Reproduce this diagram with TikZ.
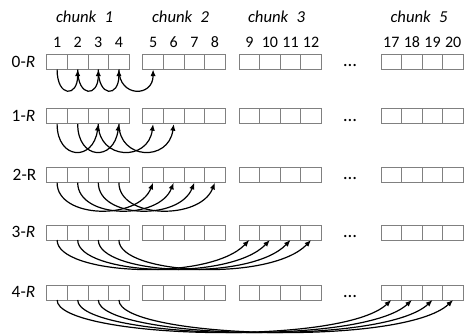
\documentclass[tikz,border=0pt]{standalone}
\usepackage{fontspec}
\setmainfont{Carlito}
\usepackage{tikz}
\usetikzlibrary{arrows.meta}

\tikzset{
  cell/.style={draw=gray, line width=0.75pt, minimum width=15.45pt, minimum height=11.25pt, inner sep=0pt, outer sep=0pt},
  link/.style={-{Latex[length=5pt,width=4pt]}, line width=0.9pt},
  head/.style={font=\fontsize{12.5}{14}\selectfont\itshape, anchor=base},
  num/.style={font=\fontsize{12}{14}\selectfont, anchor=base, inner sep=0pt},
  rowlab/.style={font=\fontsize{13}{15}\selectfont, anchor=east, inner sep=0pt},
  dots/.style={font=\fontsize{14}{16}\selectfont, inner sep=0pt}
}

\begin{document}
\begin{tikzpicture}[x=0.75pt,y=0.75pt]
  \useasboundingbox (0,0) rectangle (466,-334);
  % the rows of cells
  \foreach \r/\y in {0/62,1/116.5,2/175.2,3/232.5,4/292.5}{
    \foreach \k/\x in {1/46.8,2/142.8,3/239,5/381}{
      \foreach \j in {1,...,4}{
        \pgfmathtruncatemacro\n{4*(\k-1)+\j}
        \node[cell] (r\r-\n) at ({\x+10.3+20.6*(\j-1)},-\y) {};
      }
    }
    \node[dots] (d\r) at (350,-\y-3.7) {\ldots};
  }
  % chunk titles and cell numbers
  \node[head] (h1) at (84.5,-22.7) {chunk\enspace 1};
  \node[head] (h2) at (180.5,-22.7) {chunk\enspace 2};
  \node[head] (h3) at (276.5,-22.7) {chunk\enspace 3};
  \node[head] (h5) at (419,-22.7) {chunk\enspace 5};
  \foreach \n in {1,...,12,17,18,19,20}
    \path (r0-\n.north) ++(0,6.6) node[num] (n\n) {\n};
  % row labels
  \node[rowlab] (l0) at (35.5,-61.5) {0-\textit{R}};
  \node[rowlab] (l1) at (35.5,-116) {1-\textit{R}};
  \node[rowlab] (l2) at (36.5,-174.7) {2-R};
  \node[rowlab] (l3) at (35.5,-232) {3-\textit{R}};
  \node[rowlab] (l4) at (35.5,-292) {4-\textit{R}};
  % jumps: row r sends cell i to cell i+s
  \foreach \r/\s/\h/\k/\m in {0/1/28/0/28,1/2/36/5/38,2/4/36/15/38,3/8/35/40/42,4/16/38/50/47}
    \foreach \i in {1,...,4}{
      \pgfmathtruncatemacro\t{\i+\s}
      \draw[link] (r\r-\i.south) .. controls +(0,-\h) and +(-\k,-\m) .. (r\r-\t.south);
    }
\end{tikzpicture}
\end{document}
